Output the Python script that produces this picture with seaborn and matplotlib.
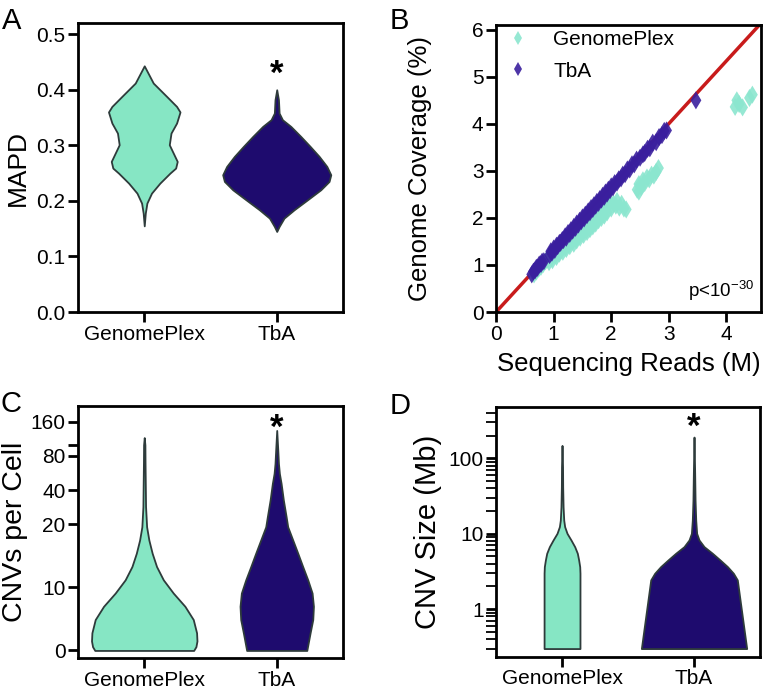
import numpy as np
import pandas as pd
import matplotlib.pyplot as plt
import seaborn as sns

# categories and colours
groups = ["GenomePlex", "TbA"]
fill_colors = {"GenomePlex": "#86E6C4", "TbA": "#1E0B6E"}
dot_colors = {"GenomePlex": "#8BE6CF", "TbA": "#3A1F9E"}

# violin outlines: value level and half width
mapd_gp_y = [0.155, 0.178, 0.196, 0.214, 0.232, 0.250, 0.259, 0.271, 0.286, 0.301, 0.322, 0.340, 0.360, 0.370, 0.388, 0.412, 0.443]
mapd_gp_w = [0, 0.008, 0.020, 0.055, 0.118, 0.194, 0.237, 0.249, 0.219, 0.189, 0.202, 0.244, 0.270, 0.244, 0.169, 0.068, 0]
mapd_tba_y = [0.145, 0.154, 0.169, 0.184, 0.202, 0.220, 0.235, 0.247, 0.262, 0.280, 0.298, 0.316, 0.334, 0.346, 0.358, 0.382, 0.400]
mapd_tba_w = [0, 0.018, 0.055, 0.131, 0.232, 0.332, 0.395, 0.408, 0.378, 0.320, 0.252, 0.181, 0.106, 0.043, 0.018, 0.013, 0]

cnv_gp_y = [0, 0.6, 1.5, 2.8, 4.9, 7.0, 9.1, 11.2, 13.3, 15.4, 17.5, 19.6, 28.6, 45, 70, 100, 116]
cnv_gp_w = [0.373, 0.390, 0.398, 0.395, 0.370, 0.307, 0.219, 0.144, 0.093, 0.060, 0.035, 0.018, 0.010, 0.008, 0.006, 0.005, 0]
cnv_tba_y = [0, 2.8, 4.9, 7.0, 9.1, 11.2, 13.3, 15.4, 17.5, 19.6, 23.3, 32.7, 45.8, 56, 68.5, 89.8, 134]
cnv_tba_w = [0.227, 0.252, 0.272, 0.277, 0.267, 0.234, 0.196, 0.159, 0.121, 0.083, 0.071, 0.050, 0.033, 0.020, 0.013, 0.008, 0]

size_gp_y = [0.30, 2.99, 3.66, 4.49, 5.50, 6.73, 8.25, 10.1, 12.4, 15.1, 22.7, 41.8, 76.8, 148]
size_gp_w = [0.136, 0.136, 0.134, 0.126, 0.116, 0.096, 0.068, 0.038, 0.020, 0.013, 0.008, 0.005, 0.004, 0]
size_tba_y = [0.30, 2.44, 2.99, 3.66, 4.49, 5.50, 6.73, 8.25, 10.1, 15.1, 27.9, 62.9, 191]
size_tba_w = [0.399, 0.328, 0.298, 0.253, 0.197, 0.139, 0.076, 0.038, 0.020, 0.013, 0.008, 0.005, 0]

# coverage vs reads (panel B)
gp_reads = [0.66, 0.70, 0.74, 0.78, 0.82, 0.86, 0.90, 0.92, 0.96, 0.98, 1.02, 1.05, 1.08, 1.10, 1.13, 1.16,
            1.20, 1.22, 1.26, 1.28, 1.32, 1.35, 1.38, 1.40, 1.44, 1.46, 1.50, 1.52, 1.55, 1.58, 1.60, 1.63,
            1.66, 1.68, 1.70, 1.73, 1.76, 1.78, 1.80, 1.83, 1.86, 1.88, 1.90, 1.93, 1.96, 1.98,
            2.00, 2.04, 2.08, 2.10, 2.14, 2.18, 2.22, 2.26,
            2.45, 2.48, 2.52, 2.55, 2.58, 2.62, 2.66, 2.70, 2.74, 2.78, 2.82, 2.48,
            4.15, 4.18, 4.22, 4.28, 4.40, 4.45]
gp_cov = [0.80, 0.86, 0.92, 0.96, 1.02, 1.08, 1.12, 1.06, 1.18, 1.10, 1.22, 1.17, 1.30, 1.24, 1.35, 1.28,
          1.42, 1.34, 1.47, 1.40, 1.52, 1.45, 1.60, 1.52, 1.66, 1.58, 1.72, 1.64, 1.80, 1.70, 1.84, 1.76,
          1.92, 1.82, 1.97, 1.88, 2.04, 1.95, 2.10, 2.00, 2.16, 2.05, 2.20, 2.12, 2.28, 2.34,
          2.20, 2.30, 2.26, 2.36, 2.22, 2.30, 2.20, 2.18,
          2.60, 2.72, 2.66, 2.80, 2.74, 2.86, 2.82, 2.92, 2.90, 2.98, 3.06, 2.56,
          4.36, 4.50, 4.42, 4.35, 4.55, 4.62]
tba_reads = [0.62, 0.65, 0.68, 0.70, 0.72, 0.75, 0.78, 0.80, 0.83,
             0.93, 0.95, 0.97, 1.00, 1.02, 1.05, 1.07, 1.10, 1.12, 1.15, 1.17, 1.20, 1.22, 1.25, 1.28,
             1.30, 1.33, 1.35, 1.38, 1.40, 1.43, 1.45, 1.48, 1.50, 1.53, 1.55, 1.58, 1.60, 1.63, 1.65,
             1.68, 1.70, 1.73, 1.75, 1.78, 1.80, 1.83, 1.85, 1.88, 1.90, 1.93, 1.95, 1.98, 2.00, 2.03,
             2.06, 2.10, 2.13, 2.17, 2.20, 2.24, 2.28, 2.32, 2.36, 2.40, 2.44,
             2.50, 2.55, 2.58, 2.63, 2.67, 2.72, 2.78, 2.83, 2.88, 2.92, 2.96,
             3.47]
tba_cov = [0.80, 0.86, 0.89, 0.94, 0.94, 1.01, 1.02, 1.07, 1.08,
           1.21, 1.29, 1.26, 1.35, 1.32, 1.41, 1.40, 1.47, 1.47, 1.53, 1.53, 1.61, 1.58, 1.68, 1.66,
           1.74, 1.73, 1.81, 1.79, 1.88, 1.86, 1.94, 1.93, 2.01, 1.99, 2.07, 2.06, 2.14, 2.12, 2.21,
           2.19, 2.27, 2.26, 2.34, 2.32, 2.40, 2.39, 2.47, 2.45, 2.54, 2.52, 2.60, 2.59, 2.67, 2.65,
           2.74, 2.75, 2.82, 2.84, 2.92, 2.93, 3.03, 3.03, 3.14, 3.14, 3.24,
           3.28, 3.35, 3.38, 3.47, 3.48, 3.60, 3.61, 3.72, 3.76, 3.85, 3.86,
           4.50]
fit_x = [0, 4.6]
fit_y = [0, 6.14]

cnv_ticks = [0, 10, 20, 40, 80, 100, 160]
cnv_labels = ["0", "10", "20", "40", "80", "", "160"]

sns.set_style("ticks")
plt.rcParams["font.family"] = ["Liberation Sans", "DejaVu Sans"]
plt.rcParams["mathtext.default"] = "regular"
plt.rcParams["text.color"] = "black"
plt.rcParams["axes.labelcolor"] = "black"
plt.rcParams["xtick.color"] = "black"
plt.rcParams["ytick.color"] = "black"

edge = "#2E3B3B"


def draw_violin(ax, pos, ys, ws, color):
    ys = np.asarray(ys, float)
    ws = np.asarray(ws, float)
    order = np.argsort(ys)
    ax.fill_betweenx(ys[order], pos - ws[order], pos + ws[order],
                     facecolor=color, edgecolor=edge, linewidth=1.3, zorder=2)


def style_axes(ax):
    for s in ax.spines.values():
        s.set_linewidth(2)
        s.set_color("black")
    ax.tick_params(direction="out", length=7, width=2, labelsize=15, pad=2,
                   color="black", labelcolor="black")


def cat_axes(ax):
    ax.set_xlim(-0.5, 1.5)
    ax.set_xticks([0, 1])
    ax.set_xticklabels(groups)


def star(ax, yfrac):
    ax.text(1, yfrac, "*", transform=ax.get_xaxis_transform(), ha="center", va="baseline",
            fontsize=25, fontweight="bold")


fig = plt.figure(figsize=(7.73, 6.92), dpi=100)
axA = fig.add_axes([0.1009, 0.5491, 0.3428, 0.4176])
axB = fig.add_axes([0.6417, 0.5491, 0.3428, 0.4147])
axC = fig.add_axes([0.1009, 0.0491, 0.3428, 0.3642])
axD = fig.add_axes([0.6417, 0.0506, 0.3415, 0.3613])

# A - MAPD
draw_violin(axA, 0, mapd_gp_y, mapd_gp_w, fill_colors["GenomePlex"])
draw_violin(axA, 1, mapd_tba_y, mapd_tba_w, fill_colors["TbA"])
cat_axes(axA)
axA.set_ylim(0, 0.52)
axA.set_yticks([0, 0.1, 0.2, 0.3, 0.4, 0.5])
axA.yaxis.set_major_formatter(plt.FormatStrFormatter("%.1f"))
axA.set_ylabel("MAPD", fontsize=19)
axA.yaxis.set_label_coords(-0.18, 0.5)
star(axA, 0.79)
style_axes(axA)

# B - coverage vs reads
df = pd.DataFrame({
    "reads": gp_reads + tba_reads,
    "coverage": gp_cov + tba_cov,
    "group": ["GenomePlex"] * len(gp_reads) + ["TbA"] * len(tba_reads),
})
sns.lineplot(x=fit_x, y=fit_y, color="#C81B1B", linewidth=2.5, ax=axB, zorder=1)
sns.scatterplot(data=df, x="reads", y="coverage", hue="group", palette=dot_colors,
                marker="d", s=85, linewidth=0, alpha=0.9, ax=axB, zorder=3)
axB.set_xlim(0, 4.6)
axB.set_ylim(0, 6.1)
axB.set_xticks([0, 1, 2, 3, 4])
axB.set_yticks([0, 1, 2, 3, 4, 5, 6])
axB.set_xlabel("Sequencing Reads (M)", fontsize=18.5)
axB.set_ylabel("Genome Coverage (%)", fontsize=18.5)
axB.xaxis.set_label_coords(0.5, -0.14)
axB.yaxis.set_label_coords(-0.24, 0.5)
h, l = axB.get_legend_handles_labels()
axB.legend(h, l, loc="upper left", frameon=False, fontsize=15, handletextpad=0.9,
           borderaxespad=0.0, borderpad=0.25, labelspacing=0.6, markerscale=0.8, handlelength=1.6)
axB.text(0.975, 0.03, r"p<10$^{-30}$", transform=axB.transAxes, ha="right", va="bottom", fontsize=13.5)
style_axes(axB)

# C - CNVs per cell (linear to 20, log above)
k = 0.542


def fwd(y):
    y = np.asarray(y, float)
    hi = 2 + np.log2(np.maximum(y, 20) / 20) * k
    return np.where(y <= 20, y / 10, hi)


def inv(t):
    t = np.asarray(t, float)
    return np.where(t <= 2, t * 10, 20 * 2 ** ((np.maximum(t, 2) - 2) / k))


axC.set_yscale("function", functions=(fwd, inv))
draw_violin(axC, 0, cnv_gp_y, cnv_gp_w, fill_colors["GenomePlex"])
draw_violin(axC, 1, cnv_tba_y, cnv_tba_w, fill_colors["TbA"])
cat_axes(axC)
axC.set_ylim(-1.2, 220)
axC.set_yticks(cnv_ticks)
axC.set_yticklabels(cnv_labels)
axC.yaxis.set_minor_locator(plt.NullLocator())
axC.set_ylabel("CNVs per Cell", fontsize=20.5)
axC.yaxis.set_label_coords(-0.19, 0.5)
star(axC, 0.875)
style_axes(axC)

# D - CNV size
axD.set_yscale("log")
draw_violin(axD, 0, size_gp_y, size_gp_w, fill_colors["GenomePlex"])
draw_violin(axD, 1, size_tba_y, size_tba_w, fill_colors["TbA"])
cat_axes(axD)
axD.set_ylim(0.232, 479)
axD.set_yticks([1, 10, 100])
axD.set_yticklabels(["1", "10", "100"])
axD.yaxis.set_minor_locator(plt.LogLocator(base=10, subs=np.arange(2, 10)))
axD.yaxis.set_minor_formatter(plt.NullFormatter())
axD.set_ylabel("CNV Size (Mb)", fontsize=21)
axD.yaxis.set_label_coords(-0.205, 0.5)
star(axD, 0.88)
style_axes(axD)
axD.tick_params(axis="y", which="minor", direction="out", length=7, width=1.3, color="black")

for x, y, s in [(0.003, 0.990, "A"), (0.5045, 0.990, "B"), (0.0, 0.4364, "C"), (0.5045, 0.4335, "D")]:
    fig.text(x, y, s, fontsize=21, ha="left", va="top")

fig.savefig("out.png", dpi=100)
